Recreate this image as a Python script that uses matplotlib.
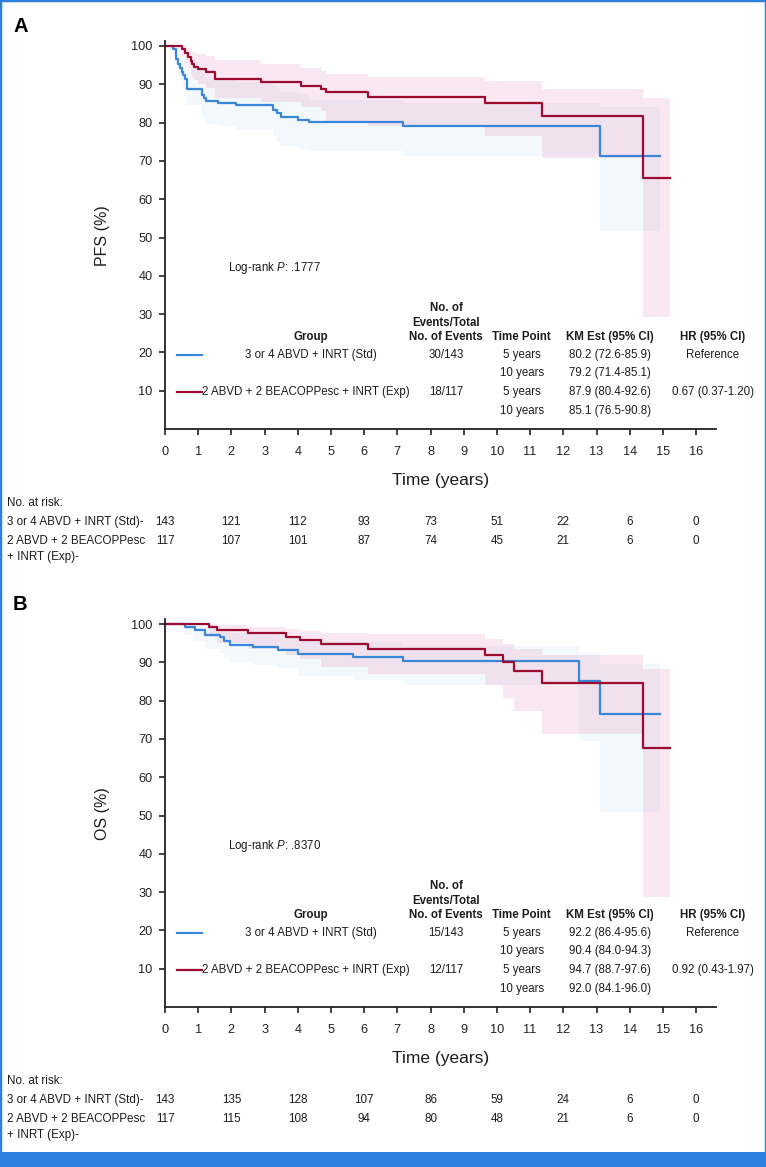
import matplotlib
matplotlib.use("Agg")
import matplotlib.pyplot as plt
from matplotlib import transforms, font_manager
from matplotlib.patches import Rectangle

plt.rcParams['font.family'] = ['Liberation Sans', 'DejaVu Sans']
plt.rcParams['mathtext.fontset'] = 'custom'
plt.rcParams['mathtext.rm'] = 'Liberation Sans'
plt.rcParams['mathtext.it'] = 'Liberation Sans:italic'

_names = {f.name for f in font_manager.fontManager.ttflist}
if 'Liberation Sans Narrow' in _names:
    RISK_FONT, RISK_FS = ['Liberation Sans Narrow', 'DejaVu Sans'], 10.6
else:
    RISK_FONT, RISK_FS = ['Liberation Sans', 'DejaVu Sans'], 8.4

# ---------------- data ----------------
# Panel A: PFS
pfs_std_t = [0, 0.25, 0.33, 0.38, 0.44, 0.50, 0.55, 0.60, 0.67, 1.10, 1.18, 1.25, 1.60, 2.15, 3.24, 3.36, 3.48, 4.00, 4.34, 7.16, 13.10, 14.90]
pfs_std_s = [100, 99.3, 96.5, 95.3, 94.2, 93.3, 92.4, 91.5, 88.8, 87.3, 86.3, 85.6, 85.1, 84.5, 83.4, 82.4, 81.5, 80.8, 80.2, 79.2, 71.3, 71.3]
pfs_std_lo = [100, 98.0, 94.0, 92.5, 91.0, 90.0, 89.0, 88.0, 84.5, 81.5, 80.5, 79.7, 79.0, 78.1, 76.5, 75.0, 73.8, 73.2, 72.6, 71.4, 51.8, 51.8]
pfs_std_hi = [100, 100, 99.0, 98.3, 97.6, 97.0, 96.3, 95.6, 93.8, 92.8, 92.0, 91.5, 91.0, 90.5, 89.6, 88.8, 88.0, 87.4, 85.9, 85.1, 84.0, 84.0]

pfs_exp_t = [0, 0.50, 0.60, 0.70, 0.77, 0.82, 0.88, 1.00, 1.25, 1.50, 2.90, 4.10, 4.70, 4.84, 6.12, 9.64, 11.36, 14.40, 15.20]
pfs_exp_s = [100, 99.2, 98.1, 97.2, 96.2, 95.3, 94.6, 93.9, 93.1, 91.4, 90.5, 89.6, 88.7, 87.9, 86.8, 85.1, 81.8, 65.5, 65.5]
pfs_exp_hi = [100, 100, 99.8, 99.5, 99.1, 98.7, 98.3, 97.9, 97.4, 96.3, 95.3, 94.3, 93.4, 92.6, 91.8, 90.8, 88.9, 86.4, 86.4]
pfs_exp_lo = [100, 97.5, 95.5, 94.0, 92.8, 91.8, 91.0, 90.0, 89.0, 86.5, 85.3, 84.0, 83.0, 80.4, 79.0, 76.5, 70.8, 29.3, 29.3]

# Panel B: OS
os_std_t = [0, 0.60, 0.90, 1.20, 1.65, 1.77, 1.96, 2.66, 3.41, 4.00, 5.66, 7.16, 12.47, 13.10, 14.90]
os_std_s = [100, 99.3, 98.5, 97.2, 96.5, 95.6, 94.6, 93.9, 93.3, 92.2, 91.4, 90.4, 85.0, 76.5, 76.5]
os_std_lo = [100, 97.0, 95.5, 93.5, 92.3, 91.3, 90.2, 89.3, 88.5, 86.4, 85.5, 84.0, 69.5, 51.0, 51.0]
os_std_hi = [100, 99.9, 99.6, 99.1, 98.7, 98.3, 97.7, 97.3, 96.8, 95.6, 95.2, 94.3, 92.5, 89.6, 89.6]

os_exp_t = [0, 1.34, 1.56, 2.51, 3.66, 4.06, 4.70, 6.11, 9.64, 10.19, 10.51, 11.36, 14.40, 15.20]
os_exp_s = [100, 99.2, 98.5, 97.6, 96.6, 95.7, 94.7, 93.6, 92.0, 90.0, 87.8, 84.6, 67.7, 67.7]
os_exp_hi = [100, 99.9, 99.7, 99.3, 98.8, 98.3, 97.6, 97.3, 96.0, 94.8, 93.5, 91.8, 88.3, 88.3]
os_exp_lo = [100, 96.5, 95.0, 93.5, 92.0, 90.8, 88.7, 87.0, 84.1, 80.8, 77.2, 71.4, 28.8, 28.8]

risk_times = [0, 2, 4, 6, 8, 10, 12, 14, 16]
pfs_risk_std = [143, 121, 112, 93, 73, 51, 22, 6, 0]
pfs_risk_exp = [117, 107, 101, 87, 74, 45, 21, 6, 0]
os_risk_std = [143, 135, 128, 107, 86, 59, 24, 6, 0]
os_risk_exp = [117, 115, 108, 94, 80, 48, 21, 6, 0]

group_std = "3 or 4 ABVD + INRT (Std)"
group_exp = "2 ABVD + 2 BEACOPPesc + INRT (Exp)"
pfs_events = ["30/143", "18/117"]
os_events = ["15/143", "12/117"]
time_points = ["5 years", "10 years", "5 years", "10 years"]
pfs_km = ["80.2 (72.6-85.9)", "79.2 (71.4-85.1)", "87.9 (80.4-92.6)", "85.1 (76.5-90.8)"]
os_km = ["92.2 (86.4-95.6)", "90.4 (84.0-94.3)", "94.7 (88.7-97.6)", "92.0 (84.1-96.0)"]
pfs_hr = ["Reference", "0.67 (0.37-1.20)"]
os_hr = ["Reference", "0.92 (0.43-1.97)"]
pfs_p = ".1777"
os_p = ".8370"

# ---------------- style ----------------
W, H = 766, 1167
BLUE = '#3a87d9'
RED = '#9c0c30'
BLUE_FILL = '#a8d4f0'
RED_FILL = '#e8a0c8'
TXT = '#1c1c1c'
FRAME = '#2f80de'

fig = plt.figure(figsize=(W / 100, H / 100), dpi=100)


def make_panel(axis_px, letter, ylabel,
               st, ss, slo, shi, et, es, elo, ehi,
               events, kms, hrs, pval, risk_s, risk_e):
    x0, x1 = 165, 716
    top_px = axis_px - 101.2 * 3.83
    ax = fig.add_axes([x0 / W, 1 - axis_px / H, (x1 - x0) / W, (axis_px - top_px) / H])
    ax.set_xlim(0, 16.6)
    ax.set_ylim(0, 101.2)

    ax.fill_between(st, slo, shi, step='post', color=BLUE_FILL, alpha=0.15, lw=0)
    ax.fill_between(et, elo, ehi, step='post', color=RED_FILL, alpha=0.25, lw=0)
    ax.step(st, ss, where='post', color=BLUE, lw=1.6)
    ax.step(et, es, where='post', color=RED, lw=1.6)

    for s in ['top', 'right']:
        ax.spines[s].set_visible(False)
    for s in ['left', 'bottom']:
        ax.spines[s].set_linewidth(1.3)
        ax.spines[s].set_color('#222222')
    ax.set_xticks(range(0, 17))
    ax.set_yticks(range(10, 101, 10))
    ax.tick_params(axis='both', direction='out', length=4, width=1.2,
                   labelsize=9.2, colors='#222222', pad=5)
    ax.tick_params(axis='x', pad=8)

    ax.set_xlabel("Time (years)", fontsize=12.5, color=TXT)
    ax.xaxis.set_label_coords(0.5, -51 / (axis_px - top_px))
    ax.xaxis.label.set_va('center')
    ax.set_ylabel(ylabel, fontsize=11.5, color=TXT)
    ax.yaxis.set_label_coords(-62 / (x1 - x0), 0.5)
    ax.yaxis.label.set_va('center')

    fs = 8.3
    ax.text(1.9, 42, r'Log-rank $\it{P}$: ' + pval, fontsize=fs, color=TXT,
            ha='left', va='center')

    rows = [19.4, 14.5, 9.6, 4.7]
    cx = {'grp': 4.4, 'ev': 8.47, 'tp': 10.75, 'km': 13.41, 'hr': 16.5}
    bold = dict(fontsize=fs, color=TXT, fontweight='bold', ha='center', va='center')
    ax.text(cx['grp'], 24.1, "Group", **bold)
    ax.text(cx['ev'], 31.6, "No. of", **bold)
    ax.text(cx['ev'], 27.8, "Events/Total", **bold)
    ax.text(cx['ev'], 24.1, "No. of Events", **bold)
    ax.text(cx['tp'], 24.1, "Time Point", **bold)
    ax.text(cx['km'], 24.1, "KM Est (95% CI)", **bold)
    ax.text(cx['hr'], 24.1, "HR (95% CI)", **bold, clip_on=False)

    reg = dict(fontsize=fs, color=TXT, ha='center', va='center')
    ax.plot([0.35, 1.1], [rows[0], rows[0]], color=BLUE, lw=1.6)
    ax.plot([0.35, 1.1], [rows[2], rows[2]], color=RED, lw=1.6)
    ax.text(cx['grp'], rows[0], group_std, **reg)
    ax.text(1.12, rows[2], group_exp, fontsize=fs, color=TXT, ha='left', va='center')
    ax.text(cx['ev'], rows[0], events[0], **reg)
    ax.text(cx['ev'], rows[2], events[1], **reg)
    for r, tp, km in zip(rows, time_points, kms):
        ax.text(cx['tp'], r, tp, **reg)
        ax.text(cx['km'], r, km, **reg)
    ax.text(cx['hr'], rows[0], hrs[0], **reg, clip_on=False)
    ax.text(cx['hr'], rows[2], hrs[1], **reg, clip_on=False)

    fig.text(13 / W, 1 - (axis_px - 402.5) / H, letter, fontsize=14.5,
             fontweight='bold', color='black', ha='left', va='center')

    # risk table
    trans = transforms.blended_transform_factory(ax.transData, fig.transFigure)
    rk = dict(fontsize=RISK_FS, family=RISK_FONT, color=TXT, va='center')

    def fy(off):
        return 1 - (axis_px + off) / H

    fig.text(7 / W, fy(74), "No. at risk:", ha='left', **rk)
    fig.text(7 / W, fy(92.7), group_std + "-", ha='left', **rk)
    fig.text(7 / W, fy(112), "2 ABVD + 2 BEACOPPesc", ha='left', **rk)
    fig.text(7 / W, fy(128), "+ INRT (Exp)-", ha='left', **rk)
    for t, a, b in zip(risk_times, risk_s, risk_e):
        ax.text(t, fy(92.7), str(a), transform=trans, ha='center', **rk)
        ax.text(t, fy(112), str(b), transform=trans, ha='center', **rk)
    return ax


make_panel(429, "A", "PFS (%)",
           pfs_std_t, pfs_std_s, pfs_std_lo, pfs_std_hi,
           pfs_exp_t, pfs_exp_s, pfs_exp_lo, pfs_exp_hi,
           pfs_events, pfs_km, pfs_hr, pfs_p, pfs_risk_std, pfs_risk_exp)
make_panel(1007, "B", "OS (%)",
           os_std_t, os_std_s, os_std_lo, os_std_hi,
           os_exp_t, os_exp_s, os_exp_lo, os_exp_hi,
           os_events, os_km, os_hr, os_p, os_risk_std, os_risk_exp)

fig.patches.append(Rectangle((0, 0), 1, 1, transform=fig.transFigure, fill=False,
                             edgecolor=FRAME, lw=2.5, zorder=10))
fig.patches.append(Rectangle((0, 0), 1, 15.5 / H, transform=fig.transFigure,
                             facecolor=FRAME, edgecolor='none', zorder=10))

fig.savefig("out.png", dpi=100)
